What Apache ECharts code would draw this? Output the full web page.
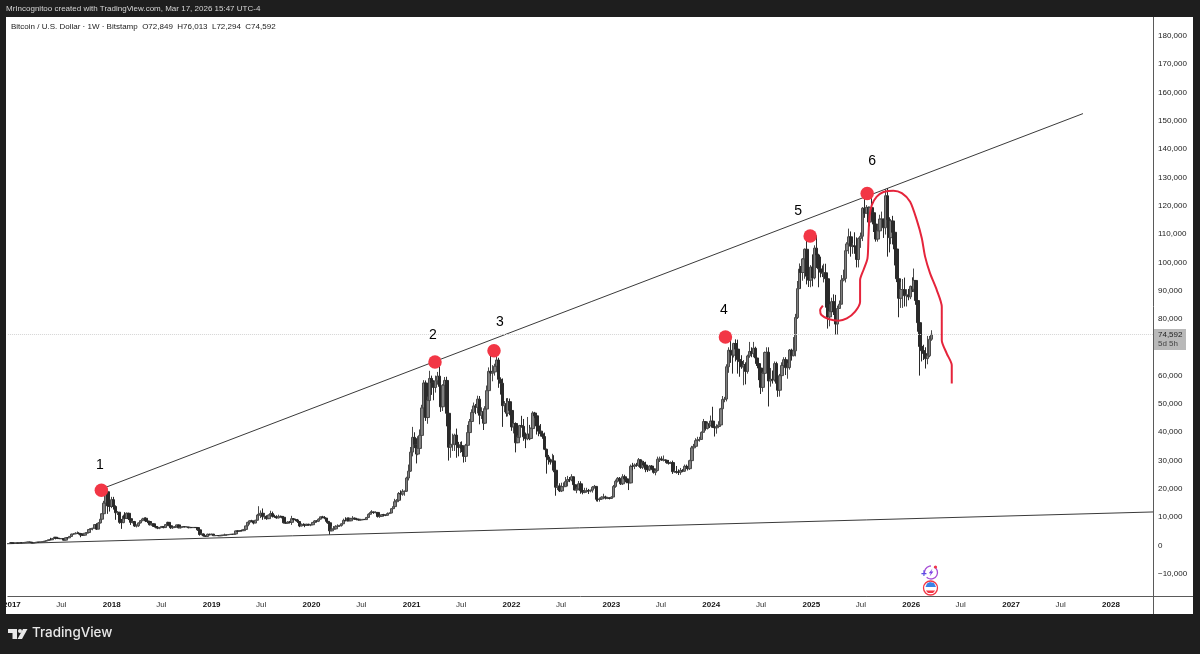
<!DOCTYPE html>
<html>
<head>
<meta charset="utf-8">
<style>html,body{margin:0;padding:0;background:#1e1e1e}#c{width:1200px;height:654px}</style>
<script src="https://cdn.jsdelivr.net/npm/echarts@6/dist/echarts.min.js"></script>
</head>
<body>
<div id="c"></div>
<script>
// Weekly candles, thousands of USD; one array per calendar year of week-closes
const firstWeek = '2016-12-26';
const firstOpen = 0.97;
const closes2017=[1.0,0.9,0.82,0.93,0.92,1.02,1.0,1.05,1.18,1.27,1.23,0.97,0.96,1.09,1.21,1.18,1.25,1.35,1.59,1.77,2.06,2.05,2.52,2.95,2.65,2.5,2.43,2.5,1.92,2.75,2.73,3.23,4.05,4.09,4.35,4.35,4.23,3.7,3.67,4.38,4.6,5.68,6.0,6.15,7.4,5.8,8.0,9.3,11.25,15.0,19.0,14.0,13.8];
const highs2017=[1.0,1.03,0.93,0.93,0.93,1.03,1.06,1.06,1.19,1.3,1.3,1.25,1.05,1.14,1.23,1.22,1.27,1.35,1.62,1.85,2.1,2.75,2.6,3.0,2.99,2.75,2.6,2.6,2.6,2.85,2.85,3.3,4.2,4.4,4.7,4.98,4.7,4.3,4.0,4.4,4.65,5.85,6.17,6.2,7.5,7.9,8.3,9.8,11.4,15.8,19.7,19.4,16.6];
const lows2017=[0.95,0.75,0.76,0.82,0.88,0.92,0.97,0.99,1.05,1.15,1.13,0.9,0.89,0.94,1.08,1.16,1.17,1.24,1.34,1.55,1.75,1.9,2.0,2.5,2.2,2.3,2.3,2.3,1.84,1.9,2.6,2.7,3.2,3.8,4.1,4.1,3.9,2.95,3.5,3.6,4.2,4.6,5.1,5.4,6.0,5.5,5.8,7.8,9.0,11.0,14.8,11.2,12.0];
const closes2018=[16.2,13.8,11.6,11.8,8.2,8.1,10.4,9.6,11.4,9.5,8.2,8.5,6.9,7.0,8.0,8.8,9.4,9.65,8.7,8.5,7.35,7.7,6.75,6.5,6.15,6.35,6.75,6.35,7.4,8.2,7.0,6.3,6.4,6.7,7.3,6.25,6.5,6.7,6.6,6.6,6.3,6.4,6.35,6.4,6.35,5.55,3.9,4.1,3.4,3.2,4.0,3.8];
const highs2018=[17.2,17.2,14.2,12.2,11.8,9.4,10.9,11.8,11.7,11.6,9.9,8.9,8.7,7.5,8.2,9.0,9.8,9.95,10.0,8.9,8.6,7.8,7.7,6.9,6.8,6.6,6.85,6.8,7.5,8.4,8.3,7.2,6.6,6.9,7.4,7.4,6.6,6.8,6.7,6.7,6.6,6.6,6.5,6.5,6.5,6.4,5.6,4.4,4.2,3.6,4.2,4.2];
const lows2018=[13.2,12.7,9.1,10.8,7.7,5.9,7.9,9.3,9.4,9.0,7.3,7.8,6.6,6.4,6.6,7.8,8.6,8.9,8.3,7.9,7.1,7.0,6.6,6.1,5.8,5.8,6.2,6.1,6.3,7.4,6.9,5.9,5.9,6.3,6.6,6.1,6.1,6.3,6.4,6.5,6.1,6.2,6.3,6.3,6.2,5.2,3.5,3.6,3.2,3.1,3.2,3.6];
const closes2019=[4.05,3.5,3.55,3.55,3.45,3.65,3.65,3.75,3.8,3.9,4.0,3.98,4.1,5.18,5.05,5.3,5.27,5.7,6.95,8.2,8.75,8.7,7.95,8.95,10.8,10.8,11.4,10.2,10.3,9.5,10.8,11.3,10.3,10.15,9.75,10.3,10.3,10.0,8.05,7.9,8.3,8.2,9.5,9.2,9.05,8.5,6.9,7.4,7.5,7.1,7.5,7.3];
const highs2019=[4.2,4.1,3.7,3.65,3.6,3.7,3.7,4.2,3.9,3.95,4.05,4.1,4.2,5.3,5.4,5.4,5.65,5.8,7.0,8.4,8.95,9.1,8.8,9.1,11.2,13.9,12.4,13.1,11.1,10.7,11.0,12.3,12.0,10.9,10.7,10.9,10.6,10.4,10.3,8.5,8.6,8.7,10.5,9.7,9.5,9.4,8.5,7.8,7.9,7.6,7.7,7.7];
const lows2019=[3.7,3.5,3.45,3.45,3.35,3.4,3.55,3.65,3.65,3.75,3.85,3.9,3.9,4.05,4.9,5.0,5.1,5.2,5.6,6.9,7.4,8.2,7.5,7.9,8.8,10.3,9.7,9.1,9.3,9.1,9.4,10.9,9.9,9.8,9.5,9.6,9.9,9.6,7.8,7.7,7.9,7.9,7.3,8.9,8.6,8.0,6.5,6.8,7.2,6.5,7.0,7.1];
const closes2020=[7.35,8.18,8.7,8.6,9.33,10.15,9.9,9.7,8.55,8.05,5.2,5.8,5.9,6.78,6.9,7.13,7.7,8.9,8.75,9.67,8.73,9.45,9.67,9.33,9.3,9.0,9.07,9.25,9.17,9.93,11.05,11.68,11.85,11.65,11.7,10.25,10.33,10.92,10.78,10.68,11.3,11.5,13.03,13.76,15.48,15.97,18.4,18.18,19.15,19.17,23.86,26.28];
const highs2020=[7.5,8.3,9.0,8.9,9.6,10.2,10.5,10.4,9.7,9.2,8.0,6.9,6.9,7.2,7.5,7.3,7.8,9.5,10.0,9.9,9.9,9.6,10.4,9.9,9.6,9.4,9.4,9.35,9.4,10.1,11.4,12.1,12.5,12.0,12.1,11.7,10.6,11.0,11.2,10.95,11.7,11.7,13.2,14.0,16.5,16.4,18.9,19.5,19.9,19.4,24.3,28.6];
const lows2020=[6.85,7.35,8.1,8.3,8.3,9.2,9.6,9.3,8.4,7.7,3.9,5.1,5.7,5.9,6.5,6.6,6.7,7.6,8.6,8.5,8.6,8.7,9.3,9.1,8.9,8.8,9.0,9.0,9.05,9.1,9.9,11.0,11.4,11.2,11.4,9.9,9.8,10.2,10.4,10.4,10.6,11.2,11.4,12.9,13.2,15.1,15.7,16.2,17.6,17.6,19.0,23.0];
const closes2021=[33.0,38.2,35.8,32.3,34.3,38.9,48.6,57.4,45.2,51.2,59.0,57.5,55.8,58.2,59.8,56.2,49.0,56.6,58.3,46.7,34.7,35.6,35.8,39.0,35.6,34.6,35.3,34.25,31.5,35.4,39.9,43.8,47.0,49.3,48.8,51.7,46.0,47.3,43.2,48.2,54.7,61.5,60.9,61.3,63.3,65.5,58.7,57.3,49.4,50.1,46.7,50.8];
const highs2021=[34.8,41.9,40.0,37.9,38.6,41.0,49.7,58.4,58.3,52.6,61.7,60.0,58.4,60.0,61.3,64.8,57.5,57.0,59.5,59.6,46.6,40.9,39.5,39.5,41.3,36.6,36.6,36.8,34.6,35.9,42.6,44.7,48.1,50.5,50.0,52.9,52.8,48.8,48.4,49.2,56.5,62.9,67.0,63.7,64.2,69.0,66.3,59.4,59.0,51.0,52.0,52.1];
const lows2021=[26.0,31.5,34.4,29.0,31.9,36.4,38.0,47.0,44.0,43.0,49.8,53.2,51.3,54.0,56.8,50.9,47.2,47.5,54.0,42.1,30.0,31.0,33.4,33.4,31.0,31.5,32.7,33.0,29.3,29.5,34.0,37.5,43.8,46.4,46.4,46.7,42.8,44.7,40.8,42.9,47.2,53.9,59.9,58.0,60.0,62.3,55.7,53.3,41.9,47.1,45.5,45.6];
const closes2022=[47.7,41.9,43.1,36.3,38.2,42.4,42.1,38.4,37.7,39.4,37.8,41.3,46.8,45.8,42.2,40.4,39.5,38.5,34.0,31.3,30.3,29.5,29.9,26.6,20.6,21.0,19.3,20.8,20.8,22.6,23.3,23.2,24.3,21.5,19.6,20.0,21.8,19.4,18.8,19.05,19.44,19.26,19.57,20.63,20.9,16.33,16.28,16.45,17.1,17.1,16.74,16.84];
const highs2022=[51.9,47.6,44.4,43.5,38.9,42.6,45.8,44.7,39.9,45.4,42.6,41.7,47.4,47.2,43.9,43.0,42.9,40.0,39.9,34.2,32.0,30.7,32.4,31.9,27.0,21.9,22.0,22.2,22.3,24.2,24.6,24.2,25.2,24.4,21.7,20.7,22.8,22.7,19.7,20.4,20.4,20.0,19.7,21.0,21.4,21.0,17.2,17.0,17.4,18.3,17.6,16.9];
const lows2022=[46.0,40.5,39.6,32.9,36.2,36.8,41.6,37.0,34.4,37.2,37.2,37.5,41.0,45.0,39.2,38.6,38.5,37.7,33.7,25.4,28.6,28.6,29.3,25.9,17.6,19.6,18.9,18.9,19.3,20.7,20.9,22.4,22.7,20.8,19.5,18.5,19.6,18.3,18.1,18.5,18.9,18.2,18.8,18.7,20.1,15.6,15.5,15.5,16.2,16.8,16.3,16.4];
const closes2023=[16.62,17.13,20.88,22.7,23.75,22.94,21.8,24.28,23.56,22.43,22.13,27.98,27.97,28.46,28.33,30.3,27.59,29.23,28.44,26.92,26.75,28.07,27.1,25.85,26.5,30.48,30.6,30.17,30.24,30.08,29.27,29.05,29.3,26.1,26.1,25.86,25.84,26.53,26.25,27.98,27.93,27.15,29.99,34.5,35.04,37.06,37.38,37.45,39.97,43.79,41.37,43.01,42.28];
const highs2023=[17.0,17.4,21.4,23.3,24.2,24.2,23.4,25.2,25.0,23.9,22.8,28.6,29.2,29.0,29.2,30.9,30.5,30.0,29.9,29.6,27.6,28.4,28.4,27.4,27.0,31.4,31.4,31.5,31.8,30.4,30.0,30.2,29.7,30.0,26.8,28.1,26.9,27.4,27.0,28.6,28.6,27.8,30.3,35.2,35.9,37.9,38.4,38.4,40.3,44.7,43.0,43.8,43.6];
const lows2023=[16.3,16.6,17.1,20.4,22.3,22.7,21.4,21.4,23.0,22.0,19.6,22.0,26.6,27.0,27.8,27.8,27.1,27.0,28.0,25.9,26.0,26.3,26.9,25.4,24.8,26.2,29.5,29.9,29.7,29.5,28.9,28.6,29.0,25.3,25.7,25.4,24.9,25.0,25.9,26.0,27.2,26.5,26.7,29.8,33.4,34.8,35.6,36.7,37.5,40.2,40.6,41.0,41.5];
const closes2024=[43.95,41.73,41.58,42.03,42.58,48.3,51.57,51.73,63.13,68.95,68.37,67.21,71.33,69.36,65.65,64.94,63.1,63.9,61.48,66.94,68.52,67.76,69.65,66.22,64.25,62.67,55.85,60.8,68.16,68.25,58.1,58.7,58.45,64.25,57.3,54.85,59.99,63.58,65.62,62.82,62.85,69.02,67.02,68.75,80.5,90.7,97.6,96.4,101.2,104.6,95.1,93.7];
const highs2024=[45.9,49.0,43.3,42.8,43.9,48.6,52.8,52.5,64.0,70.0,73.8,68.9,71.6,72.8,72.7,67.2,67.2,65.5,64.7,67.4,71.9,70.0,71.9,70.2,66.9,64.5,63.8,61.4,68.5,70.0,70.0,62.7,61.8,65.0,64.9,58.1,60.6,64.7,66.5,66.5,64.4,69.4,69.5,73.6,81.8,93.4,99.6,98.7,101.5,104.9,108.4,99.9];
const lows2024=[42.6,41.5,38.5,39.5,41.9,42.5,47.7,50.6,50.9,61.0,64.5,60.7,66.4,65.0,60.7,59.6,62.4,56.6,56.9,60.7,66.3,66.5,66.5,65.0,63.4,58.4,53.5,54.3,59.8,65.8,49.1,56.1,57.2,57.9,57.2,52.5,52.6,59.2,62.6,60.2,58.9,62.1,65.3,66.8,66.8,80.0,90.8,90.8,93.5,94.2,92.2,91.3];
const closes2025=[98.3,94.5,105.0,102.6,97.7,96.5,96.1,96.3,94.2,80.7,82.6,86.1,82.5,78.2,83.7,85.2,93.7,94.3,104.1,106.5,109.0,105.7,105.8,105.5,101.0,108.4,109.2,119.1,117.3,119.4,114.2,119.3,117.5,113.5,108.2,111.1,115.3,115.3,112.2,123.5,115.1,108.7,114.6,110.6,104.7,94.2,87.3,90.4,90.4,88.2,88.5,87.8];
const highs2025=[99.0,102.8,106.0,109.5,103.0,102.0,98.9,99.5,99.5,95.0,85.2,87.5,88.7,88.5,84.7,86.5,95.5,97.4,104.4,107.1,111.9,110.9,106.8,110.6,108.8,108.8,110.5,119.5,123.0,120.2,119.7,119.7,124.3,117.6,113.4,113.4,116.8,117.9,115.4,125.9,126.2,115.9,114.9,116.4,107.4,107.0,97.0,93.1,94.1,94.6,90.5,90.6];
const lows2025=[91.2,91.5,94.0,98.0,91.2,94.7,94.8,92.9,84.0,76.6,77.4,81.2,81.4,74.5,74.5,83.9,85.2,93.3,92.9,101.4,103.0,102.0,103.0,103.0,98.2,98.2,105.1,107.5,115.7,117.5,112.5,112.7,114.7,110.7,107.3,107.3,110.6,113.7,108.6,109.8,102.0,103.5,106.4,106.3,98.9,93.0,80.6,83.9,83.9,84.4,84.4,86.6];
const closes2026=[91.5,90.5,93.6,86.5,78.7,70.3,68.8,67.8,66.0,67.0,72.849,74.592];
const highs2026=[91.8,94.7,97.8,93.5,90.5,79.5,71.5,70.9,70.0,74.0,74.0,76.013];
const lows2026=[87.0,89.5,89.5,85.0,75.5,60.0,65.0,65.5,62.5,64.0,66.5,72.294];

// Axis ticks
const yTicks=[-10000,0,10000,20000,30000,40000,50000,60000,70000,80000,90000,100000,110000,120000,130000,140000,150000,160000,170000,180000];
const xTickDates=['2017-01-01','2017-07-01','2018-01-01','2018-07-01','2019-01-01','2019-07-01','2020-01-01','2020-07-01','2021-01-01','2021-07-01','2022-01-01','2022-07-01','2023-01-01','2023-07-01','2024-01-01','2024-07-01','2025-01-01','2025-07-01','2026-01-01','2026-07-01','2027-01-01','2027-07-01','2028-01-01'];
const xTickLabels=['2017','Jul','2018','Jul','2019','Jul','2020','Jul','2021','Jul','2022','Jul','2023','Jul','2024','Jul','2025','Jul','2026','Jul','2027','Jul','2028'];

// Annotations: decimal years and thousands of USD
const peakYears=[2017.896,2021.234,2021.825,2024.142,2024.988,2025.559];
const peakPrices=[19.5,64.8,68.8,73.6,109.3,124.3];
const numYears=[2017.881,2021.214,2021.885,2024.127,2024.868,2025.609];
const numPrices=[28.4,74.3,78.9,83.2,118.2,135.8];
const numLabels=['1','2','3','4','5','6'];
const upperYears=[2017.89,2027.72];
const upperPrices=[19.9,152.5];
const lowerYears=[2016.90,2028.42];
const lowerPrices=[0.6,11.87];
const penYears=[2025.115,2025.088,2025.101,2025.172,2025.272,2025.355,2025.438,2025.488,2025.488,2025.522,2025.562,2025.572,2025.582,2025.605,2025.655,2025.722,2025.822,2025.906,2025.989,2026.056,2026.106,2026.139,2026.189,2026.256,2026.306,2026.306,2026.356,2026.406,2026.406];
const penPrices=[84.7,83.1,81.4,80.0,79.4,80.2,82.6,86.1,93.7,97.3,101.4,109.1,116.1,120.2,123.2,124.8,125.3,124.4,121.4,114.9,108.5,102.0,96.1,90.2,84.3,72.5,67.8,63.7,57.2];
const lastPrice=74592;
const axisYears=[2016.96,2028.42];
const axisPrices=[-17800,186600];

const headerText='Bitcoin / U.S. Dollar · 1W · Bitstamp  O72,849  H76,013  L72,294  C74,592';
const creditText='MrIncognitoo created with TradingView.com, Mar 17, 2026 15:47 UTC-4';

const closes=[].concat(closes2017,closes2018,closes2019,closes2020,closes2021,closes2022,closes2023,closes2024,closes2025,closes2026);
const highs=[].concat(highs2017,highs2018,highs2019,highs2020,highs2021,highs2022,highs2023,highs2024,highs2025,highs2026);
const lows=[].concat(lows2017,lows2018,lows2019,lows2020,lows2021,lows2022,lows2023,lows2024,lows2025,lows2026);

const WEEK=7*864e5;
const t0=Date.parse(firstWeek+'T00:00:00Z');
const candles=closes.map((c,i)=>{
  const o=i?closes[i-1]:firstOpen;
  return [t0+i*WEEK,o*1000,c*1000,Math.min(lows[i],o,c)*1000,Math.max(highs[i],o,c)*1000];
});
function yearMs(y){const f=Math.floor(y),a=Date.UTC(f,0,1),b=Date.UTC(f+1,0,1);return a+(y-f)*(b-a);}
const pts=(ys,ps)=>ys.map((y,i)=>[yearMs(y),ps[i]*1000]);
const tickMs=xTickDates.map(d=>Date.parse(d+'T00:00:00Z'));
const FONT='"Liberation Sans",sans-serif';

const chart=echarts.init(document.getElementById('c'),null,{renderer:'canvas'});
chart.setOption({
  animation:false,
  backgroundColor:'#ffffff',
  grid:{left:6,right:47,top:17,bottom:58,containLabel:false},
  xAxis:{type:'value',scale:true,containShape:false,min:yearMs(axisYears[0]),max:yearMs(axisYears[1]),
    axisLine:{show:true,onZero:false,lineStyle:{color:'#5a5a5a',width:1}},
    axisTick:{show:false},splitLine:{show:false},minorTick:{show:false},
    axisLabel:{customValues:tickMs,margin:5,hideOverlap:false,showMinLabel:true,showMaxLabel:true,
      fontFamily:FONT,fontSize:8,
      formatter:function(v){const i=tickMs.indexOf(+v);const s=xTickLabels[i];return s==='Jul'?'{m|Jul}':'{y|'+s+'}';},
      rich:{m:{color:'#333',fontFamily:FONT,fontSize:8},y:{color:'#111',fontFamily:FONT,fontSize:8,fontWeight:600}}}},
  yAxis:{type:'value',position:'right',min:axisPrices[0],max:axisPrices[1],scale:true,
    axisLine:{show:true,onZero:false,lineStyle:{color:'#5a5a5a',width:1}},axisTick:{show:false},splitLine:{show:false},
    axisLabel:{customValues:yTicks,margin:5,color:'#222',fontFamily:FONT,fontSize:8,hideOverlap:false,showMinLabel:true,showMaxLabel:true,
      formatter:v=>(v<0?'\u2212':'')+Math.abs(v).toLocaleString('en-US')}},
  series:[
    {type:'line',name:'lower',data:pts(lowerYears,lowerPrices),showSymbol:false,silent:true,z:3,lineStyle:{color:'#3a3a3a',width:1}},
    {type:'line',name:'upper',data:pts(upperYears,upperPrices),showSymbol:false,silent:true,z:3,lineStyle:{color:'#3a3a3a',width:1}},
    {type:'candlestick',name:'BTCUSD',data:candles,barWidth:3,z:4,large:false,progressive:0,
      itemStyle:{color:'#7f7f7f',color0:'#2a2a2a',borderColor:'#4a4a4a',borderColor0:'#2a2a2a',borderWidth:1},
      markLine:{silent:true,symbol:'none',label:{show:false},data:[{yAxis:lastPrice}],
        lineStyle:{color:'#d4d4d4',type:'dotted',width:1}}},
    {type:'line',name:'pen',data:pts(penYears,penPrices),showSymbol:false,smooth:0.25,silent:true,z:6,
      lineStyle:{color:'#e5243b',width:2}},
    {type:'scatter',name:'peaks',data:pts(peakYears,peakPrices),symbolSize:13.5,silent:true,z:7,itemStyle:{color:'#f23645',opacity:1}},
    {type:'scatter',name:'numbers',data:pts(numYears,numPrices),symbolSize:1,silent:true,z:8,itemStyle:{color:'transparent',opacity:1},
      label:{show:true,position:'inside',color:'#000',fontFamily:FONT,fontSize:14,
        formatter:p=>numLabels[p.dataIndex]}}
  ],
  graphic:{elements:[
    // dark frame around the white panel
    {type:'rect',shape:{x:0,y:0,width:1200,height:17},style:{fill:'#1e1e1e'},z:100,silent:true},
    {type:'rect',shape:{x:0,y:0,width:6,height:654},style:{fill:'#1e1e1e'},z:100,silent:true},
    {type:'rect',shape:{x:1193,y:0,width:7,height:654},style:{fill:'#1e1e1e'},z:100,silent:true},
    {type:'rect',shape:{x:0,y:614,width:1200,height:40},style:{fill:'#1e1e1e'},z:100,silent:true},
    {type:'line',shape:{x1:1153.5,y1:596,x2:1153.5,y2:614},style:{stroke:'#5a5a5a',lineWidth:1},z:5,silent:true},
    {type:'line',shape:{x1:1153,y1:596.5,x2:1193,y2:596.5},style:{stroke:'#5a5a5a',lineWidth:1},z:5,silent:true},
    {type:'text',x:6,y:5,z:101,silent:true,style:{text:creditText,fill:'#d6d6d6',font:'8px '+FONT}},
    {type:'text',x:11,y:23,z:101,silent:true,style:{text:headerText,fill:'#1a1a1a',font:'8px '+FONT}},
    // last price tag
    {type:'rect',shape:{x:1154,y:329,width:32,height:21},style:{fill:'#b9b9b9'},z:50,silent:true},
    {type:'text',x:1158,y:330.5,z:51,silent:true,style:{text:'74,592',fill:'#222',font:'8px '+FONT}},
    {type:'text',x:1158,y:339.5,z:51,silent:true,style:{text:'5d 5h',fill:'#444',font:'8px '+FONT}},
    // TradingView logo
    {type:'polygon',shape:{points:[[8,629],[17,629],[17,639],[12.5,639],[12.5,633],[8,633]]},style:{fill:'#e8e8e8'},z:101,silent:true},
    {type:'circle',shape:{cx:20,cy:631,r:2},style:{fill:'#e8e8e8'},z:101,silent:true},
    {type:'polygon',shape:{points:[[23,629],[27.5,629],[22,639],[17.5,639]]},style:{fill:'#e8e8e8'},z:101,silent:true},
    {type:'text',x:32,y:626,z:101,silent:true,style:{text:'TradingView',fill:'#e8e8e8',font:'500 13.4px Inter,sans-serif'}},
    // event icons
    {type:'arc',shape:{cx:931,cy:572.5,r:6.5,startAngle:-1.1,endAngle:2.3},style:{stroke:'#a64bd6',fill:'none',lineWidth:1.3},z:20,silent:true},
    {type:'arc',shape:{cx:931,cy:572.5,r:6.5,startAngle:2.9,endAngle:4.7},style:{stroke:'#a64bd6',fill:'none',lineWidth:1.3},z:20,silent:true},
    {type:'polygon',shape:{points:[[932.5,568.5],[928.8,573.2],[930.8,573.2],[929.6,576.5],[933.4,571.6],[931.3,571.6]]},style:{fill:'#7b3fe4'},z:20,silent:true},
    {type:'text',x:921,y:569,z:20,silent:true,style:{text:'+',fill:'#5b4be4',font:'bold 10px '+FONT}},
    {type:'circle',shape:{cx:935.5,cy:567,r:1.6},style:{fill:'#f23645'},z:20,silent:true},
    {type:'circle',shape:{cx:930.5,cy:588,r:7},style:{fill:'#ffffff',stroke:'#f23645',lineWidth:1.3},z:20,silent:true},
    {type:'polygon',shape:{points:[[925.5,587],[927,583.5],[930,582],[934,583],[936,587]]},style:{fill:'#3b82e6'},z:20,silent:true},
    {type:'polygon',shape:{points:[[925.8,590.5],[935.2,590.5],[933,593],[928,593]]},style:{fill:'#f23645'},z:20,silent:true}
  ]}
});
</script>
</body>
</html>
